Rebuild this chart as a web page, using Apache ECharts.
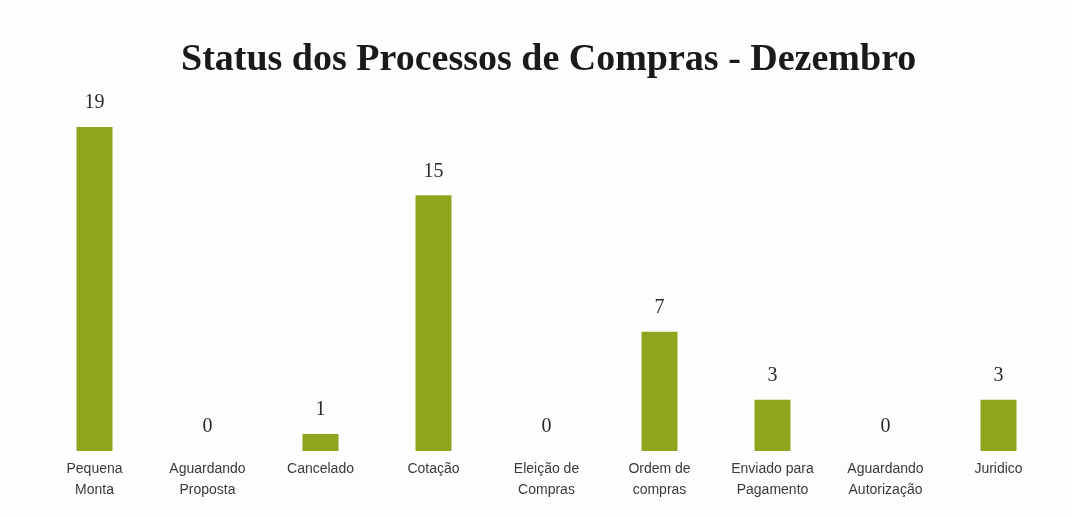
<!DOCTYPE html>
<html>
<head>
<meta charset="utf-8">
<script src="https://cdn.jsdelivr.net/npm/echarts@6/dist/echarts.min.js"></script>
<style>
  html, body { margin: 0; padding: 0; background: #fdfdfd; }
  #chart { width: 1072px; height: 517px; }
</style>
</head>
<body>
<div id="chart"></div>
<script>
const categories = [
  'Pequena\nMonta', 'Aguardando\nProposta', 'Cancelado', 'Cotação',
  'Eleição de\nCompras', 'Ordem de\ncompras', 'Enviado para\nPagamento',
  'Aguardando\nAutorização', 'Juridico'
];
const values = [19, 0, 1, 15, 0, 7, 3, 0, 3];

const myChart = echarts.init(document.getElementById('chart'));

const option = {
  backgroundColor: '#fdfdfd',
  title: {
    text: 'Status dos Processos de Compras - Dezembro',
    left: 176,
    top: 36,
    textStyle: {
      fontFamily: 'Liberation Serif',
      fontWeight: 'bold',
      fontSize: 38,
      color: '#1a1a1a'
    }
  },
  grid: {
    left: 38,
    right: 17,
    top: 110,
    bottom: 66
  },
  xAxis: {
    type: 'category',
    data: categories,
    axisLine: { show: false },
    axisTick: { show: false },
    axisLabel: {
      interval: 0,
      margin: 8,
      fontFamily: 'Liberation Sans',
      fontSize: 14,
      lineHeight: 21,
      color: '#3a3a3a'
    }
  },
  yAxis: {
    type: 'value',
    min: 0,
    max: 20,
    show: false,
    splitLine: { show: false }
  },
  series: [
    {
      type: 'bar',
      data: values,
      barWidth: 36,
      itemStyle: { color: '#8fa51e' },
      label: {
        show: true,
        position: 'top',
        distance: 14,
        fontFamily: 'Liberation Serif',
        fontSize: 20,
        color: '#2a2a2a'
      }
    }
  ]
};

myChart.setOption(option);
</script>
</body>
</html>
